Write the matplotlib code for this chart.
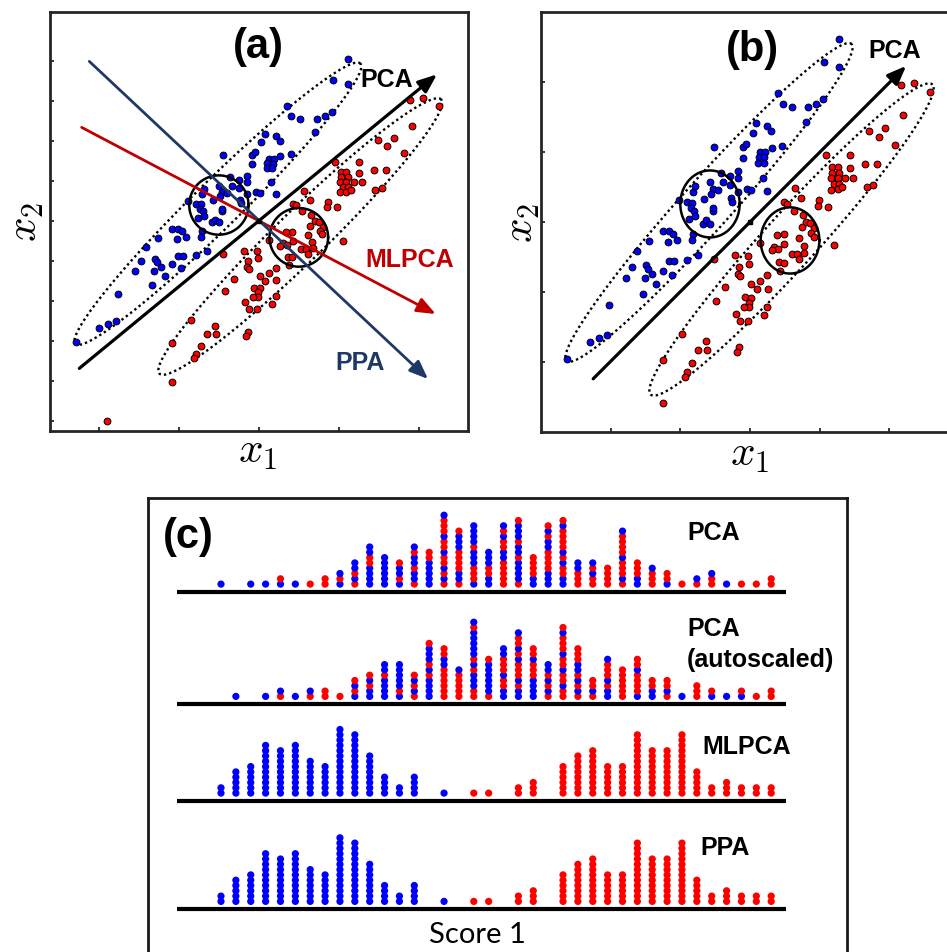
"""
Two-class toy data: PCA vs MLPCA vs PPA directions, and score-1 dot plots
"""
import matplotlib
matplotlib.use("Agg")
import matplotlib.pyplot as plt
import numpy as np

plt.rcParams["font.family"] = ["Liberation Sans", "DejaVu Sans"]
plt.rcParams["mathtext.fontset"] = "cm"

W, H = 947, 953  # output size in pixels

# ---- raw measurements (x1, x2) for the two classes ----
blue_x = [26.8, 22.3, 26.8, 8.5, 9.8, 12.5, 17.5, 19.8, 21.9, 16.8, 1.8, 5.1, 0.8, 6.3,
          -10.7, -2.2, -1.2, -2.0, 3.1, 4.5, 2.6, 4.3, 2.5, 4.1, 6.5, 9.6, -8.7, -5.9,
          -3.5, -3.7, -8.0, -11.9, -16.5, -11.2, -9.7, -17.0, -11.7, -5.9, -0.9, 0.3, 3.8,
          5.1, -21.4, -18.9, -17.3, -13.9, -5.8, -5.5, -3.5, -17.7, -16.9, -11.2, -11.0,
          -18.4, -16.5, -14.2, -13.2, -11.9, -26.2, -24.2, -23.0, -17.2, -24.5, -21.9,
          -17.3, -30.2, -34.0, -15.7, -18.9, -24.4, -22.8, -31.2, -30.6, -35.4, -29.3,
          -26.2, -31.6, -37.2, -28.2, -23.5, -32.0, -42.3, -42.9, -45.4, -48.1, -54.9]
blue_y = [48.6, 42.4, 41.2, 34.4, 31.4, 30.6, 30.6, 31.4, 32.6, 26.6, 26.2, 25.6, 23.6, 24.1,
          19.8, 19.8, 20.8, 17.1, 18.6, 18.6, 17.4, 17.2, 15.8, 15.8, 19.6, 20.2, 13.1, 12.3,
          13.6, 11.8, 10.6, 10.6, 9.6, 8.8, 8.4, 8.1, 7.4, 9.8, 8.8, 8.4, 11.6,
          8.2, 5.9, 5.2, 5.0, 6.2, 6.4, 5.4, 8.0, 3.6, 3.0, 3.0, 3.6,
          0.8, 1.6, -0.4, 0.4, -0.4, -2.4, -2.4, -3.1, -3.1, -5.4, -4.9,
          -4.9, -5.0, -7.7, -8.9, -10.2, -10.4, -10.4, -11.4, -12.4, -11.9, -13.7,
          -13.0, -14.9, -14.9, -16.4, -14.2, -19.1, -22.0, -30.1, -30.9, -32.0, -36.4]

red_x = [49.3, 45.3, 54.1, 46.0, 40.5, 35.8, 38.6, 43.6, 22.9, 30.1, 34.5, 38.1, 24.6, 26.3,
         24.6, 26.8, 30.1, 24.3, 26.3, 28.5, 31.0, 25.3, 26.8, 24.3, 26.3, 27.6, 35.0, 37.0,
         13.5, 15.3, 20.8, 20.5, 23.5, 10.3, 11.1, 13.1, 15.8, 16.8, 15.5, 18.1, 19.3, 18.3,
         10.1, 8.1, 14.8, 19.1, 3.1, 10.3, 7.3, 8.5, 6.5, 16.1, 12.6, 14.1, 16.3, 14.8, 25.3,
         -10.7, -4.4, -0.5, -3.2, -3.7, -2.9, -0.4, 5.1, 8.8, 10.1, 9.0, 0.3, 3.1, 2.0, 5.3,
         -7.4, -10.2, -1.5, 0.3, -0.2, -0.4, -1.7, 5.1, -4.2, 4.1, -2.9, -0.5, -20.5, -13.1,
         -15.7, -12.9, -3.2, -3.9, -26.0, -17.4, -18.9, -19.4, -26.0, -45.5]
red_y = [37.0, 36.3, 34.6, 28.5, 24.9, 24.3, 22.6, 20.4, 17.7, 17.7, 15.4, 15.4, 14.6, 14.6,
         13.1, 13.1, 14.3, 11.8, 11.8, 11.6, 11.8, 10.1, 10.1, 8.6, 8.8, 9.4, 9.3, 9.9,
         9.1, 6.3, 5.8, 4.3, 4.1, 5.2, 4.8, 3.0, 1.8, -0.1, -1.4, -0.2, -1.7, -2.9,
         -3.2, -3.4, -4.2, -3.9, -5.6, -5.9, -6.7, -7.2, -7.4, -6.4, -8.4, -8.4, -8.2, -9.9, -6.1,
         -9.9, -8.9, -9.1, -11.9, -13.7, -14.4, -11.2, -14.1, -10.7, -10.9, -13.1, -16.4, -15.7,
         -17.9, -17.7, -17.4, -20.9, -20.0, -20.2, -21.4, -22.7, -22.7, -22.6, -24.4, -24.8,
         -26.4, -26.4, -29.7, -31.6, -33.9, -33.9, -33.2, -34.5, -36.6, -37.4, -39.9, -41.2,
         -48.2, -59.9]

# standard deviations used for autoscaling
x1_std, x2_std = 20.9, 18.6

# projection directions (start, end) in raw units
pca_dir = [(-53.9, -44.2), (53.5, 44.0)]
mlpca_dir = [(-53.2, 28.1), (53.1, -27.9)]
ppa_dir = [(-50.9, 47.9), (50.8, -47.4)]
pca_dir_scaled = [(-2.25, -2.24), (2.24, 2.23)]

# class envelopes (cx, cy, semi-major, semi-minor, angle) and error circles (cx, cy, r)
blue_env = (-12.3, 5.2, 60.0, 7.0, 44.5)
red_env = (12.45, -4.65, 59.0, 7.5, 44.2)
blue_circ = (-12.0, 4.8, 8.9)
red_circ = (12.0, -4.9, 8.8)

# score-1 dot plots, one string per bin, class of each stacked sample bottom->top
pca_stacks = ["b", "", "b", "b", "br", "b", "r", "rr", "brb", "rbrbb", "bbbbrrbb", "bbbbbb",
              "brbbr", "rbbrbbrb", "bbbbbrr", "rbrbrrbrrbrrrb", "rbbrrrrbbbr", "brrrbbbrbbbb",
              "bbrrbbb", "rrrrrbbrrbrb", "rbbbbrbbrbbbr", "bbrrrr", "bbbrrrrbbrbr",
              "bbrrbrbrrrrbr", "rrrbb", "rrbrb", "rrrr", "rbrrrbrrrrb", "bbrrr", "rrrb", "brr",
              "r", "rb", "rrb", "b", "r", "r", "rr"]
pca_auto_stacks = ["", "b", "", "b", "rb", "b", "rb", "rr", "r", "brbr", "bbrbr", "bbbbrbb",
                   "brbbbbb", "rbrbr", "bbbbrbrbbbr", "rrrrrrbbrr", "rrrrrb", "rrbbbrbrbbbbbrb",
                   "rbbbbbbr", "bbrrbrrrbb", "bbrbrrrbrbrrb", "bbbbrrrbrr", "rbrbrbb",
                   "rrbrrbrrbrrrbr", "rbrbrbbrrr", "rbrr", "bbrbrrrb", "rrrrrr", "brrrrbrr",
                   "bbrr", "rbrr", "b", "rrr", "br", "b", "br", "r", "rr"]
mlpca_blue = [2, 5, 6, 10, 9, 10, 7, 6, 13, 12, 8, 4, 2, 4, 0, 1, 0, 0, 0, 0, 0, 0, 0, 0, 0,
              0, 0, 0, 0, 0, 0, 0, 0, 0, 0, 0, 0, 0]
mlpca_red = [0, 0, 0, 0, 0, 0, 0, 0, 0, 0, 0, 0, 0, 0, 0, 0, 0, 1, 1, 0, 2, 3, 0, 6, 8, 9,
             6, 6, 12, 9, 9, 12, 5, 2, 3, 2, 2, 2]
ppa_blue = [2, 5, 6, 10, 9, 10, 7, 6, 13, 12, 8, 4, 2, 4, 0, 1, 0, 0, 0, 0, 0, 0, 0, 0, 0,
            0, 0, 0, 0, 0, 0, 0, 0, 0, 0, 0, 0, 0]
ppa_red = [0, 0, 0, 0, 0, 0, 0, 0, 0, 0, 0, 0, 0, 0, 0, 0, 0, 1, 1, 0, 2, 3, 0, 6, 8, 9,
           6, 6, 12, 9, 9, 12, 5, 2, 3, 2, 2, 2]

BLUE, RED = "#0000ff", "#ff0000"
MLPCA_RED, PPA_NAVY = "#c00000", "#203864"


def rect(l, t, r, b):
    """pixel box -> figure fraction rect"""
    return [l / W, 1 - b / H, (r - l) / W, (b - t) / H]


def ftext(x, y, s, **kw):
    fig.text(x / W, 1 - y / H, s, **kw)


def ellipse_xy(cx, cy, a, b, ang, n=300):
    t = np.linspace(0, 2 * np.pi, n)
    th = np.deg2rad(ang)
    x = cx + a * np.cos(t) * np.cos(th) - b * np.sin(t) * np.sin(th)
    y = cy + a * np.cos(t) * np.sin(th) + b * np.sin(t) * np.cos(th)
    return x, y


def arrow(ax, seg, color, lw):
    ax.annotate("", xy=seg[1], xytext=seg[0], zorder=4,
                arrowprops=dict(arrowstyle="-|>,head_length=0.75,head_width=0.3",
                                color=color, lw=lw, mutation_scale=15,
                                shrinkA=0, shrinkB=0))


def style_axes(ax):
    for s in ax.spines.values():
        s.set_linewidth(2.0)
        s.set_color("#262626")
    ax.tick_params(direction="in", length=3, width=1.3, color="#262626",
                   top=False, right=False, labelbottom=False, labelleft=False)


def scatter_panel(ax, sx, sy):
    ax.scatter(np.array(blue_x) / sx, np.array(blue_y) / sy, s=24, c=BLUE,
               edgecolors="k", linewidths=0.7, zorder=3)
    ax.scatter(np.array(red_x) / sx, np.array(red_y) / sy, s=24, c=RED,
               edgecolors="k", linewidths=0.7, zorder=3)
    for env in (blue_env, red_env):
        ex, ey = ellipse_xy(*env)
        ax.plot(ex / sx, ey / sy, color="k", lw=1.7, linestyle=(0, (1, 1.3)), zorder=2)
    for cx, cy, r in (blue_circ, red_circ):
        ex, ey = ellipse_xy(cx, cy, r, r, 0)
        ax.plot(ex / sx, ey / sy, color="k", lw=1.8, zorder=4)
    ax.plot([0], [0], marker="s", ms=3.5, color="k", zorder=5)


fig = plt.figure(figsize=(W / 100, H / 100), dpi=100)

# (a) raw data
ax1 = fig.add_axes(rect(50, 12.7, 468, 431.7))
scatter_panel(ax1, 1.0, 1.0)
arrow(ax1, pca_dir, "k", 2.3)
arrow(ax1, mlpca_dir, MLPCA_RED, 2.0)
arrow(ax1, ppa_dir, PPA_NAVY, 2.0)
ax1.set_xlim(-62.7, 62.8)
ax1.set_ylim(-62.9, 62.8)
ax1.set_xticks([-48, -24, 0, 24, 48])
ax1.set_yticks(np.arange(-60, 49, 12))
style_axes(ax1)
ax1.text(0, 52.5, "(a)", ha="center", va="center", fontsize=30, fontweight="bold")
ax1.text(38.3, 42.6, "PCA", ha="center", va="center", fontsize=18, fontweight="bold")
ax1.text(45.3, -11.4, "MLPCA", ha="center", va="center", fontsize=18,
         fontweight="bold", color=MLPCA_RED)
ax1.text(30.3, -42.4, "PPA", ha="center", va="center", fontsize=18,
         fontweight="bold", color=PPA_NAVY)

# (b) autoscaled data
ax2 = fig.add_axes(rect(540.9, 13, 959.1, 433))
scatter_panel(ax2, x1_std, x2_std)
arrow(ax2, pca_dir_scaled, "k", 2.3)
ax2.set_xlim(-3, 3)
ax2.set_ylim(-3, 3)
ax2.set_xticks([-2, -1, 0, 1, 2])
ax2.set_yticks([-2, -1, 0, 1, 2])
style_axes(ax2)
ax2.text(0.03, 2.47, "(b)", ha="center", va="center", fontsize=30, fontweight="bold")
ax2.text(2.08, 2.46, "PCA", ha="center", va="center", fontsize=18, fontweight="bold")

for x, y in ((258, 452), (750, 455)):
    ftext(x, y, r"$x_1$", ha="center", va="center", fontsize=31)
for x, y in ((26, 222), (522, 223)):
    ftext(x, y, r"$x_2$", ha="center", va="center", fontsize=31, rotation=90)

# (c) score 1 dot plots
axc = fig.add_axes(rect(148, 499, 847, 1000))
axc.set_xlim((148 - 221) / 14.87, (847 - 221) / 14.87)
axc.set_ylim(1000, 499)
axc.set_xticks([])
axc.set_yticks([])
for name, s in axc.spines.items():
    s.set_linewidth(2.0)
    s.set_color("#1a1a1a")
axc.spines["bottom"].set_visible(False)

rows = [
    (592.7, pca_stacks),
    (705.0, pca_auto_stacks),
    (801.7, ["b" * nb + "r" * nr for nb, nr in zip(mlpca_blue, mlpca_red)]),
    (910.0, ["b" * nb + "r" * nr for nb, nr in zip(ppa_blue, ppa_red)]),
]
for base, stacks in rows:
    xs, ys, cs = [], [], []
    for i, stack in enumerate(stacks):
        for k, c in enumerate(stack):
            xs.append(i)
            ys.append(base - 7.6 - 5.3 * k)
            cs.append(BLUE if c == "b" else RED)
    axc.scatter(xs, ys, s=27, c=cs, linewidths=0, zorder=3)
    axc.plot([-2.96, 38.0], [base, base], color="k", lw=3.0, solid_capstyle="butt")

ftext(188, 537, "(c)", ha="center", va="center", fontsize=30, fontweight="bold")
ftext(687, 533, "PCA", ha="left", va="center", fontsize=18, fontweight="bold")
ftext(687, 629, "PCA", ha="left", va="center", fontsize=18, fontweight="bold")
ftext(687, 660, "(autoscaled)", ha="left", va="center", fontsize=18, fontweight="bold")
ftext(702, 747, "MLPCA", ha="left", va="center", fontsize=18, fontweight="bold")
ftext(700, 848, "PPA", ha="left", va="center", fontsize=18, fontweight="bold")
ftext(477, 935, "Score 1", ha="center", va="center", fontsize=21, family=["Lato", "DejaVu Sans"])

fig.savefig("out.png", dpi=100)
plt.close(fig)
